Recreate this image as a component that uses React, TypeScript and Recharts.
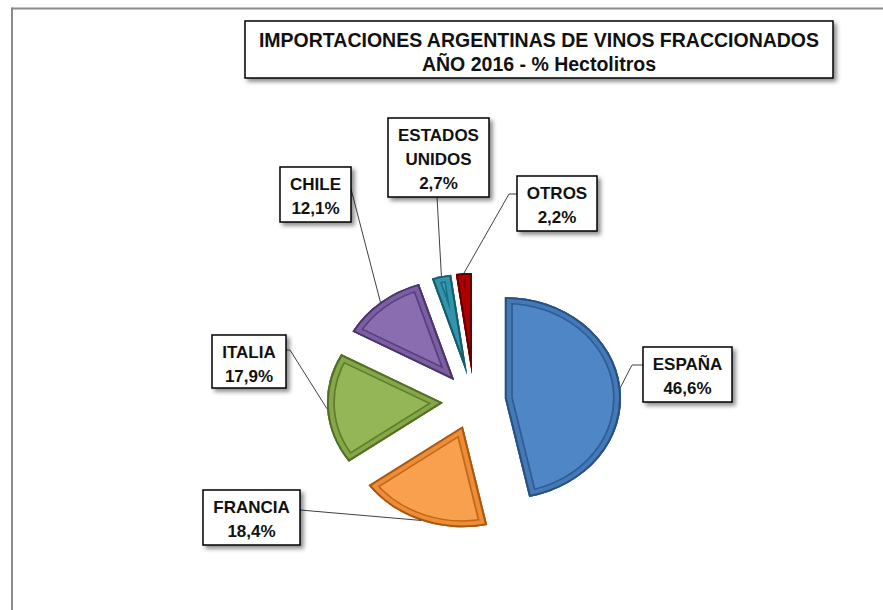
import React from 'react';
import { PieChart, Pie } from 'recharts';

const countries = ['ESPAÑA', 'FRANCIA', 'ITALIA', 'CHILE', 'ESTADOS UNIDOS', 'OTROS'];
const shares = [46.6, 18.4, 17.9, 12.1, 2.7, 2.2];
const labelRows = [['ESPAÑA'], ['FRANCIA'], ['ITALIA'], ['CHILE'], ['ESTADOS', 'UNIDOS'], ['OTROS']];
const titleLines = ['IMPORTACIONES ARGENTINAS DE VINOS FRACCIONADOS', 'AÑO 2016 - % Hectolitros'];

const chartData = countries.map((name, i) => ({ name, value: shares[i] }));

// bevelled excel-ish look: face, darker band, dark inner line, outer rim
const palette = [
  { face: '#4f86c6', band: '#4479b8', line: '#2f5c94', rim: '#2a4f7e' },
  { face: '#f9a04e', band: '#ee8c38', line: '#c06818', rim: '#a55812' },
  { face: '#94b656', band: '#85a748', line: '#5f7c2e', rim: '#526d28' },
  { face: '#8a6cb0', band: '#7c5fa3', line: '#563f7b', rim: '#493569' },
  { face: '#3ea6be', band: '#3196ad', line: '#1e6f81', rim: '#175a69' },
  { face: '#c40404', band: '#ad0000', line: '#780000', rim: '#600000' },
];

// callout boxes as placed in the original, plus the bend of each leader
const callouts = [
  { x: 643, y: 347, w: 89, h: 55, bend: [632, 365], end: [643, 365] },
  { x: 203, y: 490, w: 97, h: 55, bend: null, end: [300, 510] },
  { x: 212, y: 335, w: 74, h: 53, bend: [290, 350], end: [286, 350] },
  { x: 280, y: 167, w: 71, h: 55, bend: null, end: [351, 189] },
  { x: 388, y: 118, w: 101, h: 79, bend: null, end: [437, 197] },
  { x: 517, y: 176, w: 80, h: 55, bend: [509, 194], end: [517, 194] },
];

const W = 883;
const H = 610;
const SX = 1.15; // the source picture is stretched sideways
const EXPLODE = 27;
const RAD = Math.PI / 180;
const FONT = "'Liberation Sans', Arial, sans-serif";

const fmt = (v: number) => `${v.toFixed(1).replace('.', ',')}%`;

function slicePath(cx: number, cy: number, r: number, a0: number, a1: number) {
  const px = (a: number) => cx + r * Math.cos(-a * RAD);
  const py = (a: number) => cy + r * Math.sin(-a * RAD);
  const large = Math.abs(a1 - a0) > 180 ? 1 : 0;
  const sweep = a1 < a0 ? 1 : 0;
  return `M${cx},${cy} L${px(a0)},${py(a0)} A${r},${r} 0 ${large} ${sweep} ${px(a1)},${py(a1)} Z`;
}

function renderSlice(props: any) {
  const { cx, cy, startAngle, endAngle, outerRadius, index } = props;
  const mid = (startAngle + endAngle) / 2;
  const ox = cx + EXPLODE * Math.cos(-mid * RAD);
  const oy = cy + EXPLODE * Math.sin(-mid * RAD);
  const d = slicePath(ox, oy, outerRadius, startAngle, endAngle);
  const c = palette[index];
  const clipId = `slice-clip-${index}`;
  const tf = `translate(${cx} ${cy}) scale(${SX} 1) translate(${-cx} ${-cy})`;

  // leader starts on the middle of the outer arc
  const ax = cx + (EXPLODE + outerRadius) * Math.cos(-mid * RAD) * SX;
  const ay = cy + (EXPLODE + outerRadius) * Math.sin(-mid * RAD);
  const box = callouts[index];
  const pts = [[ax, ay], ...(box.bend ? [box.bend] : []), box.end].map((p) => p.join(',')).join(' ');
  const rows = [...labelRows[index], fmt(props.value)];

  return (
    <g key={`slice-${index}`}>
      <g transform={tf}>
        <clipPath id={clipId}>
          <path d={d} />
        </clipPath>
        <g clipPath={`url(#${clipId})`}>
          <path d={d} fill={c.face} />
          <path d={d} fill="none" stroke={c.line} strokeWidth={14} strokeLinejoin="round" />
          <path d={d} fill="none" stroke={c.band} strokeWidth={11} strokeLinejoin="round" />
          <path d={d} fill="none" stroke={c.rim} strokeWidth={3.5} strokeLinejoin="round" />
        </g>
      </g>
      <polyline points={pts} fill="none" stroke="#404040" strokeWidth={1} />
      <rect
        x={box.x}
        y={box.y}
        width={box.w}
        height={box.h}
        fill="#fff"
        stroke="#000"
        strokeWidth={1.5}
        filter="url(#boxShadow)"
      />
      {rows.map((t, i) => (
        <text
          key={t}
          x={box.x + box.w / 2}
          y={box.y + 23 + i * 24}
          textAnchor="middle"
          fontFamily={FONT}
          fontWeight="bold"
          fontSize={17}
          fill="#111"
        >
          {t}
        </text>
      ))}
    </g>
  );
}

export default function App() {
  return (
    <div style={{ position: 'absolute', left: 0, top: 0, width: W, height: H, background: '#fff' }}>
      <svg width={W} height={H} style={{ position: 'absolute', left: 0, top: 0 }}>
        <defs>
          <filter id="boxShadow" x="-20%" y="-20%" width="150%" height="160%">
            <feDropShadow dx="3" dy="3" stdDeviation="2" floodColor="#000" floodOpacity="0.45" />
          </filter>
        </defs>
        <line x1={12} y1={8.5} x2={W} y2={8.5} stroke="#8a8a8a" strokeWidth={2} />
        <line x1={12} y1={7.5} x2={12} y2={H} stroke="#8a8a8a" strokeWidth={2} />
        <rect
          x={245}
          y={21}
          width={588}
          height={57}
          fill="#fff"
          stroke="#000"
          strokeWidth={1.5}
          filter="url(#boxShadow)"
        />
        {titleLines.map((t, i) => (
          <text
            key={t}
            x={539}
            y={47 + i * 24}
            textAnchor="middle"
            fontFamily={FONT}
            fontWeight="bold"
            fontSize={19.5}
            fill="#111"
          >
            {t}
          </text>
        ))}
      </svg>
      <div style={{ position: 'absolute', left: 0, top: 0 }}>
        <PieChart width={W} height={H}>
          <Pie
            data={chartData}
            dataKey="value"
            nameKey="name"
            cx={469}
            cy={396}
            outerRadius={101}
            startAngle={90}
            endAngle={-270}
            fill="none"
            stroke="none"
            label={renderSlice}
            labelLine={false}
            isAnimationActive={false}
          />
        </PieChart>
      </div>
    </div>
  );
}
